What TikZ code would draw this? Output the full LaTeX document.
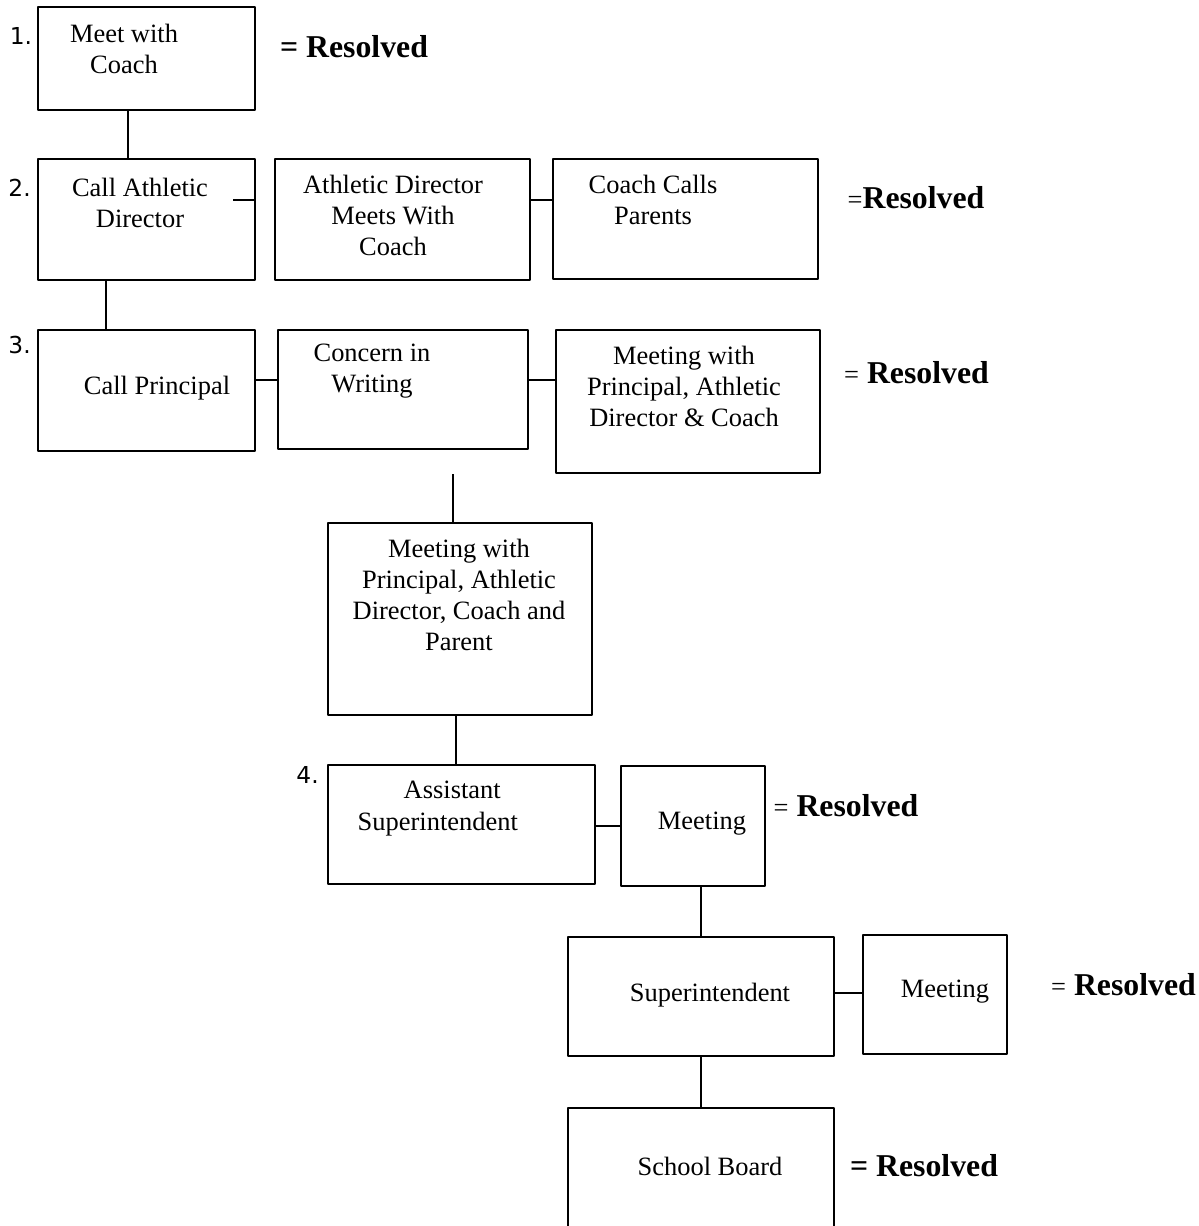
\documentclass[tikz,border=0pt]{standalone}
\usepackage{fontspec}
\setmainfont{Liberation Serif}
\newfontfamily\numfont{DejaVu Sans}
\begin{document}
\begin{tikzpicture}[line join=bevel,
  box/.style={draw=black, rectangle, inner sep=0pt},
  txt/.style={inner sep=0pt, align=center, font=\fontsize{11.9bp}{14bp}\selectfont},
  res/.style={inner sep=0pt, font=\fontsize{14.3bp}{17bp}\selectfont\bfseries},
  num/.style={inner sep=0pt, font=\numfont\fontsize{10.5bp}{12bp}\selectfont}]
  \pgfsetlinewidth{0.9bp}
  \useasboundingbox (0bp,0bp) rectangle (539.55bp,-551.7bp);
%%
\pgfsetcolor{black}
  % Node: meet
  \draw (65.93bp,-26.33bp) node [box, minimum width=97.65bp, minimum height=46.35bp] (meet) {};
  \draw (55.8bp,-21.83bp) node [txt] (meettxt) {Meet with\\Coach};
  \draw (9.4bp,-16bp) node [num] (one) {1.};
  \draw (159.3bp,-21.15bp) node [res] (res1) {= Resolved};
  % Node: cad
  \draw (65.93bp,-98.78bp) node [box, minimum width=97.65bp, minimum height=54.45bp] (cad) {};
  \draw (63bp,-91.35bp) node [txt] (cadtxt) {Call Athletic\\Director};
  \draw (8.8bp,-84.6bp) node [num] (two) {2.};
  % Node: admeet
  \draw (181.13bp,-98.78bp) node [box, minimum width=114.75bp, minimum height=54.45bp] (admeet) {};
  \draw (176.85bp,-96.98bp) node [txt] (admeettxt) {Athletic Director\\Meets With\\Coach};
  % Node: calls
  \draw (308.48bp,-98.55bp) node [box, minimum width=119.25bp, minimum height=54bp] (calls) {};
  \draw (293.85bp,-90bp) node [txt] (callstxt) {Coach Calls\\Parents};
  \draw (412.2bp,-89.1bp) node [res] (res2) {{\mdseries\fontsize{11.9bp}{14bp}\selectfont =}Resolved};
  % Node: cprin
  \draw (65.93bp,-175.73bp) node [box, minimum width=97.65bp, minimum height=54.45bp] (cprin) {};
  \draw (70.65bp,-174.6bp) node [txt] (cprintxt) {Call Principal};
  \draw (8.8bp,-155.25bp) node [num] (three) {3.};
  % Node: writing
  \draw (181.35bp,-175.28bp) node [box, minimum width=112.5bp, minimum height=53.55bp] (writing) {};
  \draw (167.4bp,-167.18bp) node [txt] (writingtxt) {Concern in\\Writing};
  % Node: meetpac
  \draw (309.6bp,-180.68bp) node [box, minimum width=118.8bp, minimum height=64.35bp] (meetpac) {};
  \draw (307.8bp,-173.93bp) node [txt] (meetpactxt) {Meeting with\\Principal, Athletic\\Director \& Coach};
  \draw (412.43bp,-167.85bp) node [res] (res3) {{\mdseries\fontsize{11.9bp}{14bp}\selectfont =} Resolved};
  % Node: meetall
  \draw (207bp,-278.55bp) node [box, minimum width=118.8bp, minimum height=86.4bp] (meetall) {};
  \draw (206.55bp,-267.75bp) node [txt] (meetalltxt) {Meeting with\\Principal, Athletic\\Director, Coach and\\Parent};
  % Node: asst
  \draw (207.68bp,-371.03bp) node [box, minimum width=120.15bp, minimum height=53.55bp] (asst) {};
  \draw (197bp,-363.83bp) node [txt] (assttxt) {\hspace*{13bp}Assistant\\Superintendent};
  \draw (138.4bp,-348.75bp) node [num] (four) {4.};
  % Node: meet4
  \draw (311.85bp,-371.7bp) node [box, minimum width=64.8bp, minimum height=54bp] (meet4) {};
  \draw (315.9bp,-370.8bp) node [txt] (meet4txt) {Meeting};
  \draw (380.7bp,-362.7bp) node [res] (res4) {{\mdseries\fontsize{11.9bp}{14bp}\selectfont =} Resolved};
  % Node: supt
  \draw (315.45bp,-448.43bp) node [box, minimum width=119.7bp, minimum height=53.55bp] (supt) {};
  \draw (319.5bp,-447.75bp) node [txt] (supttxt) {Superintendent};
  % Node: meet5
  \draw (420.75bp,-447.53bp) node [box, minimum width=64.8bp, minimum height=53.55bp] (meet5) {};
  \draw (425.25bp,-446.4bp) node [txt] (meet5txt) {Meeting};
  \draw (505.58bp,-443.25bp) node [res] (res5) {{\mdseries\fontsize{11.9bp}{14bp}\selectfont =} Resolved};
  % Node: board
  \draw (315.45bp,-528.3bp) node [box, minimum width=119.7bp, minimum height=59.4bp] (board) {};
  \draw (319.5bp,-524.7bp) node [txt] (boardtxt) {School Board};
  \draw (415.8bp,-524.7bp) node [res] (res6) {= Resolved};
  % Edge: meet -- cad
  \draw ([xshift=40.95bp]meet.south west) -- ([xshift=40.95bp]cad.north west);
  % Edge: cad -- admeet
  \draw ([shift={(-10.35bp,8.78bp)}]cad.east) -- ([yshift=8.78bp]cad.east);
  % Edge: admeet -- calls
  \draw ([yshift=8.78bp]admeet.east) -- ([yshift=8.78bp]admeet.east -| calls.west);
  % Edge: cad -- cprin
  \draw ([xshift=31.05bp]cad.south west) -- ([xshift=31.05bp]cprin.north west);
  % Edge: cprin -- writing
  \draw ([yshift=4.73bp]cprin.east) -- ([yshift=4.73bp]cprin.east -| writing.west);
  % Edge: writing -- meetpac
  \draw ([yshift=4.3bp]writing.east) -- ([yshift=4.3bp]writing.east -| meetpac.west);
  % Edge: writing -- meetall
  \draw ([xshift=-3.15bp]meetall.north |- meetpac.south) -- ([xshift=-3.15bp]meetall.north);
  % Edge: meetall -- asst
  \draw ([xshift=-1.8bp]meetall.south) -- ([xshift=-1.8bp]meetall.south |- asst.north);
  % Edge: asst -- meet4
  \draw ([yshift=-0.7bp]asst.east) -- ([yshift=-0.7bp]asst.east -| meet4.west);
  % Edge: meet4 -- supt
  \draw ([xshift=3.6bp]meet4.south) -- ([xshift=3.6bp]meet4.south |- supt.north);
  % Edge: supt -- meet5
  \draw ([yshift=1.6bp]supt.east) -- ([yshift=1.6bp]supt.east -| meet5.west);
  % Edge: supt -- board
  \draw (supt.south) -- (board.north);
%
\end{tikzpicture}
\end{document}
